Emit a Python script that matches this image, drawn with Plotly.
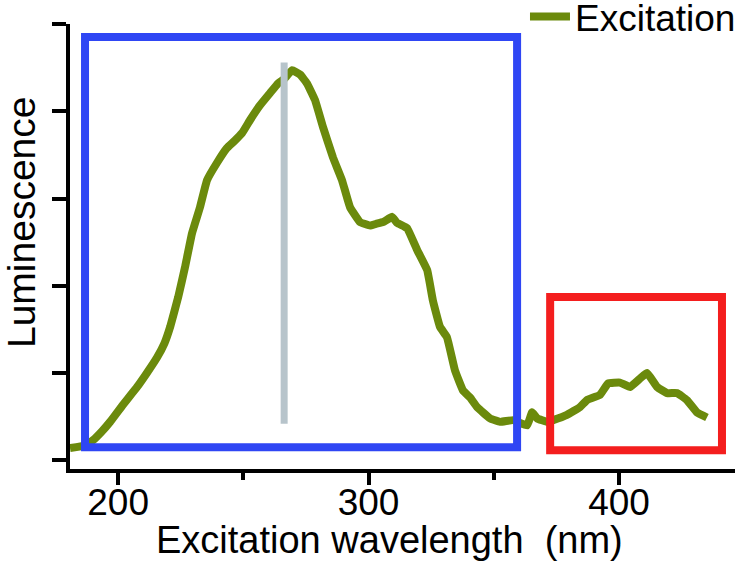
import plotly.graph_objects as go

# Excitation spectrum (wavelength in nm, luminescence in arbitrary units)
wavelength = [180.8, 186.8, 190.0, 193.5, 196.8, 201.5, 207.6, 211.5, 215.6, 218.5, 220.8, 224.0,
              226.7, 229.5, 232.7, 235.5, 239.5, 243.5, 246.5, 249.5, 252.7, 256.7, 260.7, 263.9,
              266.3, 269.5, 272.7, 275.4, 278.6, 281.8, 285.8, 289.4, 292.6, 296.6, 300.6, 303.0,
              305.8, 309.4, 311.4, 315.4, 319.4, 323.4, 325.7, 328.5, 331.3, 334.5, 337.7, 340.5,
              343.3, 348.5, 352.5, 357.7, 363.3, 365.3, 367.3, 371.3, 373.7, 379.2, 384.4, 387.2,
              392.4, 395.6, 400.4, 404.4, 408.5, 411.2, 415.2, 419.2, 423.2, 427.1, 431.1, 435.1]
luminescence = [0.14, 0.17, 0.23, 0.33, 0.44, 0.62, 0.84, 1.00, 1.18, 1.34, 1.53, 1.87,
                2.21, 2.60, 2.90, 3.21, 3.41, 3.58, 3.66, 3.75, 3.90, 4.07, 4.21, 4.32,
                4.37, 4.47, 4.42, 4.32, 4.13, 3.82, 3.47, 3.21, 2.90, 2.73, 2.69, 2.71,
                2.73, 2.79, 2.72, 2.66, 2.41, 2.18, 1.83, 1.53, 1.41, 1.03, 0.80, 0.72,
                0.61, 0.48, 0.44, 0.46, 0.40, 0.55, 0.48, 0.44, 0.46, 0.52, 0.61, 0.69,
                0.75, 0.88, 0.89, 0.84, 0.94, 1.00, 0.84, 0.77, 0.77, 0.69, 0.55, 0.49]

x_ticks = [200, 300, 400]
x_tick_labels = ["200", "300", "400"]
y_ticks = [0, 1, 2, 3, 4, 5]
x_title = "Excitation wavelength  (nm)"
y_title = "Luminescence"

# Highlight boxes and marker line (data coordinates)
blue_box = [186.8, 0.15, 359.3, 4.85]
red_box = [372.5, 0.115, 441.1, 1.87]
peak_line = [266.3, 0.42, 266.3, 4.56]

fig = go.Figure()
fig.add_trace(go.Scatter(
    x=wavelength, y=luminescence, mode="lines", name="Excitation",
    line=dict(color="#6B8A0C", width=8, shape="spline", smoothing=0.3),
))

fig.add_shape(type="rect", x0=blue_box[0], y0=blue_box[1], x1=blue_box[2], y1=blue_box[3],
              line=dict(color="#2F46F4", width=8), layer="above")
fig.add_shape(type="rect", x0=red_box[0], y0=red_box[1], x1=red_box[2], y1=red_box[3],
              line=dict(color="#F41E1E", width=8), layer="above")
fig.add_shape(type="line", x0=peak_line[0], y0=peak_line[1], x1=peak_line[2], y1=peak_line[3],
              line=dict(color="#B7C4CB", width=7), layer="above")

# Axis titles placed as annotations for exact positioning
fig.add_annotation(text=x_title, xref="paper", yref="paper", x=0.48, y=-0.16,
                   xanchor="center", yanchor="middle", showarrow=False,
                   font=dict(size=38))
fig.add_annotation(text=y_title, xref="paper", yref="paper", x=-0.072, y=0.553,
                   xanchor="center", yanchor="middle", showarrow=False, textangle=-90,
                   font=dict(size=39))

fig.update_layout(
    width=741, height=561,
    margin=dict(l=70, r=6, t=24, b=92, autoexpand=False),
    paper_bgcolor="white", plot_bgcolor="white",
    font=dict(family="Liberation Sans, Arial, sans-serif", color="black"),
    showlegend=True,
    legend=dict(x=1.009, xanchor="right", y=1.016, yanchor="middle",
                font=dict(size=37), bgcolor="rgba(0,0,0,0)",
                itemwidth=40, tracegroupgap=0),
    xaxis=dict(
        range=[180.8, 446.3], showgrid=False, zeroline=False,
        showline=True, linecolor="black", linewidth=4,
        tickmode="array", tickvals=x_ticks, ticktext=x_tick_labels,
        ticks="outside", ticklen=12, tickwidth=4, tickcolor="black",
        tickfont=dict(size=37), automargin=False, ticklabelstandoff=-14,
        minor=dict(dtick=50, tick0=0, ticks="outside", ticklen=7, tickwidth=4, tickcolor="black", showgrid=False),
    ),
    yaxis=dict(
        range=[-0.1, 5.0], showgrid=False, zeroline=False,
        showline=True, linecolor="black", linewidth=4,
        tickmode="array", tickvals=y_ticks, showticklabels=False,
        ticks="outside", ticklen=14, tickwidth=4, tickcolor="black", automargin=False,
    ),
)

fig.write_html("out.html", config={"displayModeBar": False},
               post_script="document.body.style.margin='0px';")
